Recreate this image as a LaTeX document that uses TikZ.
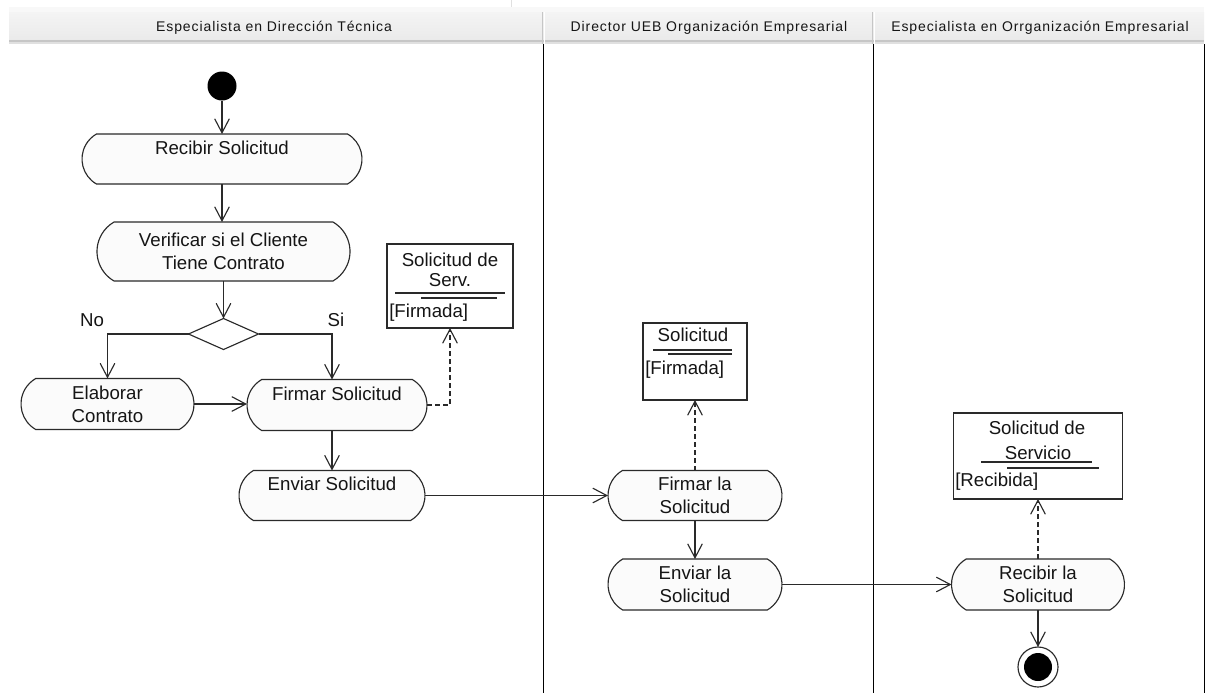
\documentclass[tikz,border=0pt]{standalone}
\usepackage{fontspec}
\setmainfont{Liberation Sans}
\newfontfamily\lanefont[LetterSpace=6.5]{Liberation Sans}
\usetikzlibrary{shapes.misc,shapes.geometric,arrows.meta,calc}
\definecolor{ink}{HTML}{2A2A2A}
\definecolor{txt}{HTML}{151515}
\definecolor{actfill}{HTML}{FBFBFB}
\definecolor{hdrtop}{HTML}{F4F4F4}
\definecolor{hdrbot}{HTML}{EAEAEA}
\definecolor{hdrline}{HTML}{C6C6C6}
\definecolor{hdrsoft}{HTML}{E0E0E0}
\begin{document}
\begin{tikzpicture}[x=0.75pt,y=-0.75pt,
  sz/.style 2 args={minimum width=#1*0.75pt, minimum height=#2*0.75pt},
  base/.style={inner sep=0pt, outer sep=0pt, line width=0.85pt, draw=ink},
  act/.style={base, rounded rectangle, rounded rectangle arc length=120,
    fill=actfill, align=center, text=txt,
    font=\fontsize{14pt}{17pt}\selectfont},
  oneline/.style={text height=10pt, text depth=17.2pt},
  obj/.style={base, rectangle, fill=white},
  otext/.style={inner sep=0pt, text height=0.72em, text depth=0pt, text=txt,
    font=\fontsize{14pt}{17pt}\selectfont},
  decision/.style={base, diamond, fill=white},
  startnode/.style={circle, fill=black, inner sep=0pt, minimum size=29*0.75pt},
  endring/.style={base, circle, fill=white, minimum size=40*0.75pt},
  enddot/.style={circle, fill=black, inner sep=0pt, minimum size=28*0.75pt},
  flow/.style={draw=ink, line width=0.85pt, -{Straight Barb[length=10.5pt,width=11pt]}},
  dep/.style={flow, dash pattern=on 3.5pt off 2.5pt},
  lane/.style={draw=black, line width=0.75pt},
  underline/.style={draw=ink, line width=0.8pt},
  lanetitle/.style={inner sep=0pt, text height=0.72em, text depth=0pt, text=txt,
    font=\lanefont\fontsize{10.5pt}{12pt}\selectfont}
]
\useasboundingbox (0,0) rectangle (1206,693);
\fill[white] (0,0) rectangle (1206,693);

% lane header bar
\draw[draw=hdrsoft, line width=0.75pt] (511,0) -- (511,12);
\fill[hdrtop!60!white] (9,7) rectangle (1204,12);
\shade[top color=hdrtop, bottom color=hdrbot] (9,12) rectangle (1204,40);
\fill[hdrline] (9,40) rectangle (1204,42);
\fill[hdrsoft] (9,42) rectangle (1204,44);
\foreach \xx in {543,873}{
  \draw[draw=hdrline, line width=0.75pt] (\xx-0.5,12) -- (\xx-0.5,44);
  \draw[draw=white, line width=0.75pt] (\xx+1,12) -- (\xx+1,44);
}
\node[lanetitle] (lane1) at (274,27) {Especialista en Dirección Técnica};
\node[lanetitle] (lane2) at (709,27) {Director UEB Organización Empresarial};
\node[lanetitle] (lane3) at (1040,27) {Especialista en Orrganización Empresarial};

% lane separators
\draw[lane] (543.5,44) -- (543.5,693);
\draw[lane] (873.5,44) -- (873.5,693);
\draw[lane] (1204.5,44) -- (1204.5,693);

% actions and control nodes
\node[startnode] (init) at (222,86) {};
\node[act, sz={280}{50}, oneline] (recibir) at (222,159) {Recibir Solicitud};
\node[act, sz={253}{59}] (verificar) at (223.5,251.5) {Verificar si el Cliente\\Tiene Contrato};
\node[decision, sz={70}{31}] (dec) at (223.5,334) {};
\node[otext] (no) at (92,322) {No};
\node[otext] (si) at (336,322) {Si};
\node[act, sz={173}{51}] (elaborar) at (107.5,404) {Elaborar\\Contrato};
\node[act, sz={180}{51}, oneline] (firmar) at (337,405) {Firmar Solicitud};
\node[act, sz={186}{50}, oneline] (enviar) at (332,495.5) {Enviar Solicitud};
\node[act, sz={174}{50}] (firmarla) at (695,495.5) {Firmar la\\Solicitud};
\node[act, sz={174}{51}] (enviarla) at (695,584.5) {Enviar la\\Solicitud};
\node[act, sz={173}{51}] (recibirla) at (1038,584.5) {Recibir la\\Solicitud};
\node[endring] (fin) at (1038,667) {};
\node[enddot] (findot) at (fin.center) {};

% object nodes
\node[obj, sz={126}{84}] (obj1) at (450,286) {};
\node[otext] (obj1a) at (450,262) {Solicitud de};
\node[otext] (obj1b) at (450,282) {Serv.};
\node[otext, anchor=west] (obj1c) at (389,313) {[Firmada]};
\draw[underline] (395,293) -- (505,293);
\draw[underline] (421,298) -- (497,298);

\node[obj, sz={104}{77}] (obj2) at (695,361.5) {};
\node[otext] (obj2a) at (693,337) {Solicitud};
\node[otext, anchor=west] (obj2c) at (645,370) {[Firmada]};
\draw[underline] (653,350) -- (732,350);
\draw[underline] (668,354) -- (732,354);

\node[obj, sz={169}{86}] (obj3) at (1038,456) {};
\node[otext] (obj3a) at (1037,430) {Solicitud de};
\node[otext] (obj3b) at (1038,455) {Servicio};
\node[otext, anchor=west] (obj3c) at (955,482) {[Recibida]};
\draw[underline] (981,462) -- (1092,462);
\draw[underline] (1007,468) -- (1099,468);

% control flow
\draw[flow] (init.south) -- (init.south |- recibir.north);
\draw[flow] (recibir.south) -- (recibir.south |- verificar.north);
\draw[flow] (verificar.south -| dec.north) -- (dec.north);
\draw[flow] (dec.west) -| (elaborar.north);
\draw[flow] (dec.east) -| ($(firmar.north)+(-5,0)$);
\draw[flow] (elaborar.east) -- (elaborar.east -| firmar.west);
\draw[flow] (firmar.south -| enviar.north) -- (enviar.north);
\draw[flow] (enviar.east) -- (firmarla.west);
\draw[flow] (firmarla.south) -- (enviarla.north);
\draw[flow] (enviarla.east) -- (recibirla.west);
\draw[flow] (recibirla.south) -- (fin.north);

% object flow
\draw[dep] (firmar.east) -| (obj1.south);
\draw[dep] (firmarla.north) -- (obj2.south);
\draw[dep] (recibirla.north) -- (obj3.south);
\end{tikzpicture}
\end{document}
